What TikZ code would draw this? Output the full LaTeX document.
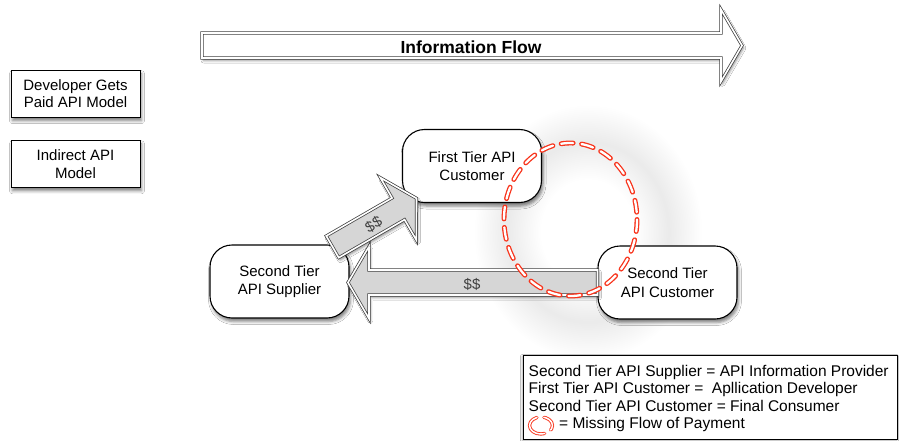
\documentclass[tikz,border=0pt]{standalone}
\usepackage{fontspec}
\setmainfont{Liberation Sans}
\usetikzlibrary{shadows.blur,calc}
\definecolor{payred}{RGB}{248,52,28}
\pgfdeclareradialshading{ringhaze}{\pgfpoint{0bp}{0bp}}{color(0bp)=(white); color(9bp)=(white); color(15.5bp)=(black!8); color(22bp)=(white); color(25bp)=(white); color(50bp)=(white)}
\newcommand\blockarrowat[4]{%
  \begin{scope}[shift={#1},rotate=#2]
    \path[#3] (0,-12.5) -- ({#4-21},-12.5) -- ({#4-21},-36) -- (#4,0) -- ({#4-21},36) -- ({#4-21},12.5) -- (0,12.5) -- cycle;
  \end{scope}}
\tikzset{
  softshadow/.style={blur shadow={shadow xshift=1.5pt, shadow yshift=-3.5pt, shadow blur radius=3pt, shadow opacity=50}},
  tierbox/.style={draw=black, line width=1.1pt, fill=white, rounded corners=22pt, align=center,
    font=\fontsize{15}{18.5}\selectfont, inner sep=0pt, minimum width=139pt, minimum height=73pt, softshadow},
  modelbox/.style={draw=black, line width=1pt, fill=white, align=center,
    font=\fontsize{15}{17.7}\selectfont, inner sep=0pt, minimum width=129pt, minimum height=47pt, softshadow},
  blockar/.style={draw=black!75, double=white, double distance=1.6pt, line width=0.75pt, line join=miter, fill=black!16,
    blur shadow={shadow xshift=1.5pt, shadow yshift=-2.5pt, shadow blur radius=2.5pt, shadow opacity=45}},
  flowar/.style={blockar, fill=white},
  dollar/.style={font=\fontsize{15}{15}\selectfont, text=black!75, inner sep=0pt},
  missing/.style={draw=payred, double=white, line width=1.3pt, double distance=2.3pt, line cap=round},
}
\begin{document}
\begin{tikzpicture}[x=1pt,y=-1pt]
\useasboundingbox (0,0) rectangle (901,441);
\fill[white] (0,0) rectangle (901,441);

% soft haze around the missing-payment ring
\shade[shading=ringhaze] (588,232) ellipse (130 and 145);

% information flow arrow
\coordinate (flowstart) at (202,45.5);
\blockarrowat{(flowstart)}{0}{flowar}{540}
\node[font=\fontsize{17.5}{17.5}\selectfont\bfseries, inner sep=0pt] (flowtext) at (471,47) {Information Flow};

% model boxes
\node[modelbox] (dev) at (75.5,93.7) {Developer Gets\\Paid API Model};
\node[modelbox] (ind) at (75.5,163.8) {Indirect API\\Model};

% tier boxes
\node[tierbox] (first) at (472,166) {First Tier API\\Customer};
\node[tierbox] (supp) at (279.5,281.5) {Second Tier\\API Supplier};
\node[tierbox] (cust) at (667.5,282.5) {Second Tier\\API Customer};

% payment arrows
\blockarrowat{(cust.west)}{180}{blockar}{249.5}
\coordinate (dstart) at (332.5,246.8);
\blockarrowat{(dstart)}{30}{blockar}{97}
\node[dollar] (dollarA) at (472,284) {\$\$};
\node[dollar, rotate=30] (dollarB) at (373.5,224.5) {\$\$};

% missing flow of payment
\draw[missing, dash pattern=on 12pt off 8.5pt] (570.5,219.5) ellipse (66.5 and 76.5);

% legend
\node[draw=black, line width=0.9pt, fill=white, anchor=north west, minimum width=374pt, minimum height=84pt, inner sep=0pt,
  blur shadow={shadow xshift=-1pt, shadow yshift=-1pt, shadow blur radius=2pt, shadow opacity=35}] (legend) at (523,355) {};
\node[anchor=west, align=left, inner sep=0pt, font=\fontsize{15.5}{17.5}\selectfont] (legtext) at (528.5,398.5)
  {Second Tier API Supplier = API Information Provider\\
   First Tier API Customer =\ \ Apllication Developer\\
   Second Tier API Customer = Final Consumer\\
   \hspace*{30.5pt}= Missing Flow of Payment};
\draw[missing, line width=0.9pt, double distance=1.5pt, dash pattern=on 5pt off 7pt on 31pt off 7pt on 10pt off 0pt] (541,425.5) ellipse (11.5 and 8.5);
\end{tikzpicture}
\end{document}
